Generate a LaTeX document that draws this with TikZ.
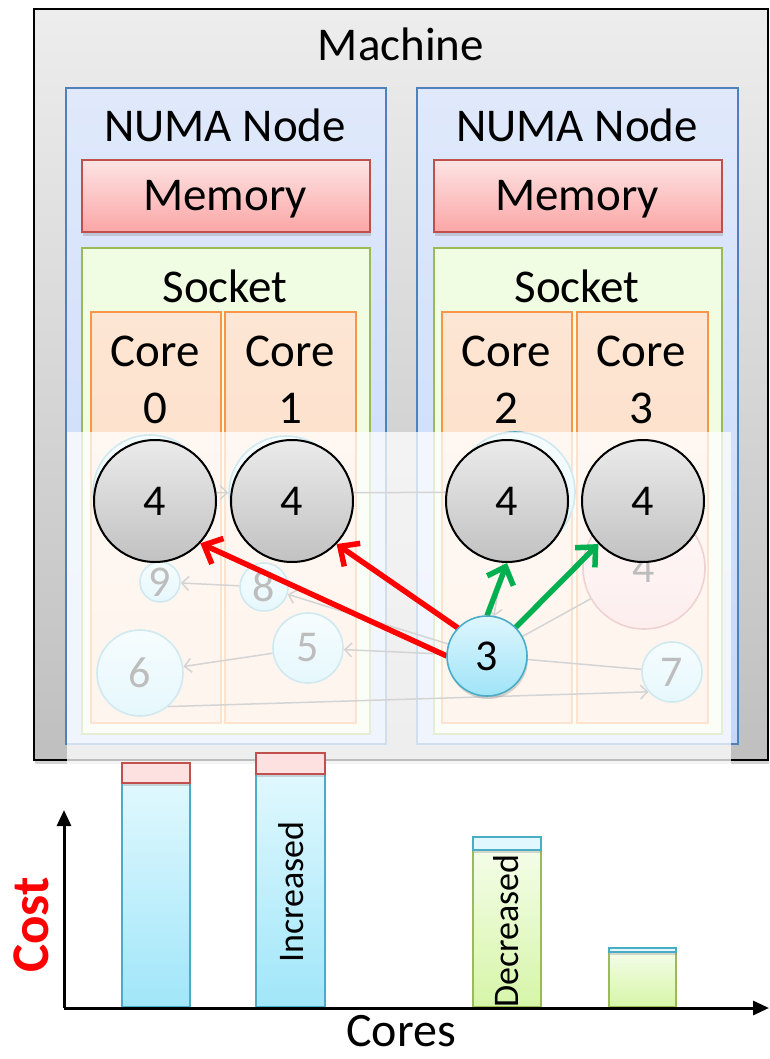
\documentclass[tikz,border=0pt]{standalone}
\usepackage{fontspec}
\setmainfont{Carlito}
\usetikzlibrary{arrows.meta,shadows}

\definecolor{numaB}{HTML}{4F81BD}
\definecolor{memR}{HTML}{C0504D}
\definecolor{sockG}{HTML}{9BBB59}
\definecolor{coreO}{HTML}{F79646}
\definecolor{taskB}{HTML}{4BACC6}
\definecolor{arrG}{HTML}{00B050}

\tikzset{
  box/.style={rectangle, anchor=north west, inner sep=0pt, line width=1.6pt},
  machinebox/.style={box, draw=black, line width=2.4pt, top color=black!7, bottom color=black!25,
    drop shadow={opacity=0.35, shadow xshift=1pt, shadow yshift=-4pt}},
  numabox/.style={box, draw=numaB, top color={rgb,255:red,224;green,233;blue,251}, bottom color={rgb,255:red,198;green,216;blue,249}},
  membox/.style={box, draw=memR, top color={rgb,255:red,253;green,228;blue,228}, bottom color={rgb,255:red,251;green,166;blue,166},
    drop shadow={opacity=0.3, shadow xshift=1pt, shadow yshift=-4pt}},
  sockbox/.style={box, draw=sockG, fill={rgb,255:red,240;green,253;blue,226}},
  corebox/.style={box, draw=coreO, top color={rgb,255:red,253;green,230;blue,212}, bottom color={rgb,255:red,252;green,217;blue,190}},
  lbl/.style={anchor=base, inner sep=0pt, font=\fontsize{47}{50}\selectfont},
  numfont/.style={font=\fontsize{44}{48}\selectfont},
  taskc/.style={circle, inner sep=0pt, draw=taskB, line width=1.6pt,
    top color={rgb,255:red,222;green,246;blue,254}, bottom color={rgb,255:red,160;green,228;blue,248}, numfont},
  pinkc/.style={circle, inner sep=0pt, draw=memR, line width=1.6pt,
    top color={rgb,255:red,253;green,228;blue,228}, bottom color={rgb,255:red,251;green,190;blue,190}, numfont},
  grayc/.style={circle, inner sep=0pt, minimum size=122pt, draw=black, line width=2pt,
    top color=black!8, bottom color=black!24, numfont},
  migr/.style={draw=black!65, line width=1.5pt, -{Straight Barb[length=7pt,width=14pt]}},
  migrline/.style={draw=black!65, line width=1.5pt},
  bigarrow/.style={line width=5.5pt, -{Straight Barb[length=15pt,width=28pt]}},
  barbase/.style={rectangle, anchor=south west, inner sep=0pt, line width=1.6pt,
    drop shadow={opacity=0.3, shadow xshift=1pt, shadow yshift=-3pt}},
  bluebar/.style={barbase, draw=taskB, top color={rgb,255:red,224;green,248;blue,254}, bottom color={rgb,255:red,160;green,230;blue,249}},
  redcap/.style={barbase, draw=memR, fill={rgb,255:red,253;green,224;blue,224}},
  greenbar/.style={barbase, draw=sockG, top color={rgb,255:red,244;green,253;blue,232}, bottom color={rgb,255:red,214;green,245;blue,168}},
  bluecap/.style={barbase, draw=taskB, fill={rgb,255:red,224;green,248;blue,254}},
}

\begin{document}
\begin{tikzpicture}[x=1pt, y=-1pt]
\useasboundingbox (0,0) rectangle (769,1059);

% machine and its hierarchy
\node[machinebox, minimum width=734pt, minimum height=751pt] (machine) at (33,8) {};
\node[lbl] (machinelbl) at (401,61) {Machine};

\node[numabox, minimum width=320pt, minimum height=656pt] (numa0) at (65,87) {};
\node[numabox, minimum width=321pt, minimum height=656pt] (numa1) at (416,87) {};
\node[lbl] (numa0lbl) at (225,142) {NUMA Node};
\node[lbl] (numa1lbl) at (577,142) {NUMA Node};

\node[membox, minimum width=288pt, minimum height=72pt] (mem0) at (81,159) {};
\node[membox, minimum width=288pt, minimum height=72pt] (mem1) at (433,159) {};
\node[lbl] (mem0lbl) at (225,211) {Memory};
\node[lbl] (mem1lbl) at (577,211) {Memory};

\node[sockbox, minimum width=288pt, minimum height=486pt] (sock0) at (81,247) {};
\node[sockbox, minimum width=288pt, minimum height=486pt] (sock1) at (433,247) {};
\node[lbl] (sock0lbl) at (225,302) {Socket};
\node[lbl] (sock1lbl) at (577,302) {Socket};

\node[corebox, minimum width=130pt, minimum height=411pt] (core0) at (90,311) {};
\node[corebox, minimum width=131pt, minimum height=411pt] (core1) at (224,311) {};
\node[corebox, minimum width=130pt, minimum height=411pt] (core2) at (441,311) {};
\node[corebox, minimum width=131pt, minimum height=411pt] (core3) at (576,311) {};
\foreach \n/\x in {0/155,1/290,2/506,3/641}{
  \node[lbl] (core\n lbl) at (\x,366) {Core};
  \node[lbl] (core\n num) at (\x,423) {\n};
}

% earlier task placements, seen through the veil
\node[taskc, minimum size=114pt] (h1) at (150,492) {};
\node[taskc, minimum size=114pt] (h2) at (286,493) {};
\node[taskc, minimum size=120pt] (h3) at (515,492) {};
\node[pinkc, minimum size=122pt] (p4) at (644,568) {4};
\node[taskc, minimum size=40pt] (t9) at (160,582) {9};
\node[taskc, minimum size=48pt] (t8) at (264,587) {8};
\node[taskc, minimum size=70pt] (t5) at (308,648) {5};
\node[taskc, minimum size=86pt] (t6) at (140,673) {6};
\node[taskc, minimum size=60pt] (t7) at (672,672) {7};
\node[circle, inner sep=0pt, minimum size=80pt] (t3) at (487,656) {};

\draw[migr] (h1) -- (h2);
\draw[migr] (h2) -- (h3);
\draw[migr] (h3) -- (t3);
\draw[migr] (t3) -- (t8);
\draw[migr] (t3) -- (t5);
\draw[migr] (t8) -- (t9);
\draw[migr] (t5) -- (t6);
\draw[migr] (t6.-50) -- (t7.-140);
\draw[migrline] (t3) -- (t7);
\draw[migrline] (p4.-150) -- (t3);

% translucent veil over the lower part
\fill[white, opacity=0.74] (67,432) rectangle (731,768);

% cost chart
\node[bluebar, minimum width=68pt, minimum height=224pt] (bar0) at (121,1008) {};
\node[redcap, minimum width=68pt, minimum height=20pt] (cap0) at (121,784) {};
\node[bluebar, minimum width=69pt, minimum height=233pt] (bar1) at (255,1008) {};
\node[redcap, minimum width=69pt, minimum height=21pt] (cap1) at (255,775) {};
\node[greenbar, minimum width=68pt, minimum height=157pt] (bar2) at (472,1008) {};
\node[bluecap, minimum width=68pt, minimum height=13pt] (cap2) at (472,851) {};
\node[greenbar, minimum width=67pt, minimum height=55pt] (bar3) at (608,1008) {};
\node[bluecap, minimum width=67pt, minimum height=4pt] (cap3) at (608,953) {};

\coordinate (origin) at (64,1008);
\coordinate (ytop) at (64,810);
\coordinate (xend) at (769,1008);
\draw[line width=3pt, -{Triangle[length=16pt,width=14pt]}] (origin) -- (ytop);
\draw[line width=3pt, -{Triangle[length=16pt,width=14pt]}] (origin) -- (xend);

\node[rotate=90, inner sep=0pt, font=\fontsize{36}{40}\selectfont] (inc) at (291,892) {Increased};
\node[rotate=90, inner sep=0pt, font=\fontsize{36}{40}\selectfont] (dec) at (506,931) {Decreased};
\node[rotate=90, inner sep=0pt, text=red, font=\fontsize{53}{56}\selectfont\bfseries] (cost) at (31,925) {Cost};
\node[anchor=base, inner sep=0pt, font=\fontsize{48}{52}\selectfont] (cores) at (401,1046) {Cores};

% current placement of the task groups
\node[grayc] (g1) at (155,501) {4};
\node[grayc] (g2) at (292,501) {4};
\node[grayc] (g3) at (507,501) {4};
\node[grayc] (g4) at (643,501) {4};

\draw[bigarrow, red] (t3.west) -- (g1.-43);
\draw[bigarrow, red] (t3.136) -- (g2.-44);
\draw[bigarrow, arrG] (t3.north) -- (g3.south);
\draw[bigarrow, arrG] (t3.45) -- (g4.-136);

\node[taskc, minimum size=80pt, drop shadow={opacity=0.3, shadow xshift=1pt, shadow yshift=-3pt}] (t3vis) at (t3) {3};
\end{tikzpicture}
\end{document}
